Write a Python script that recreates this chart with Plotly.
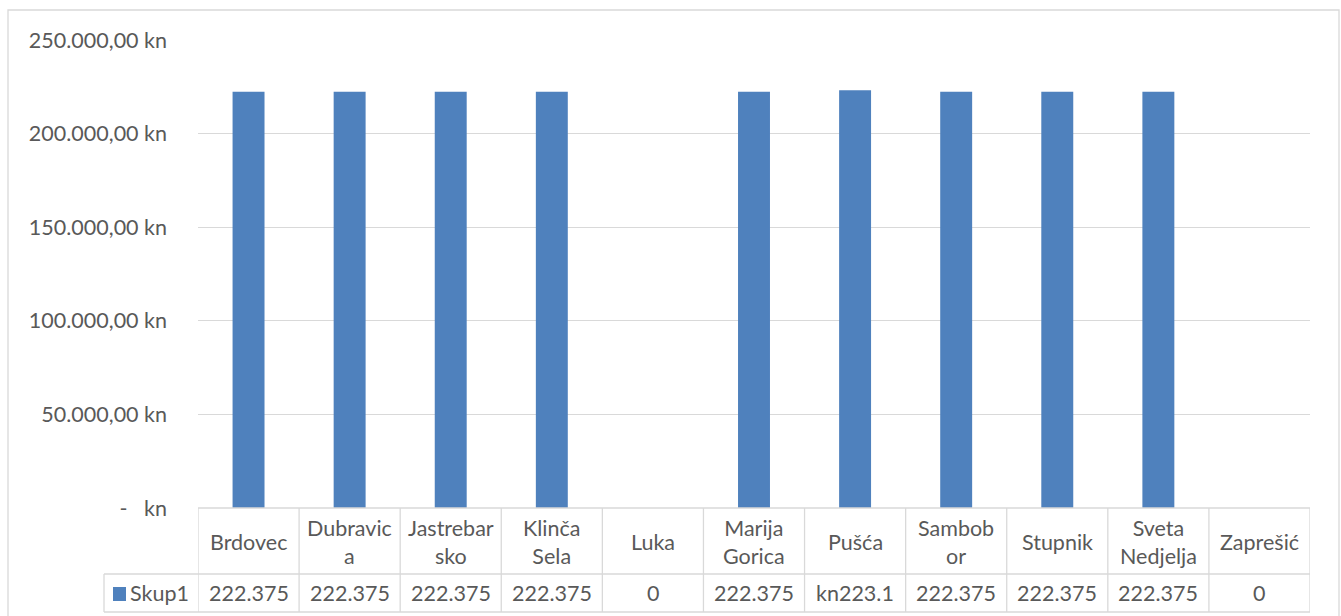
import plotly.graph_objects as go

# ---------------- data ----------------
categories = ["Brdovec", "Dubravica", "Jastrebarsko", "Klinča Sela", "Luka",
              "Marija Gorica", "Pušća", "Sambobor", "Stupnik", "Sveta Nedjelja", "Zaprešić"]
table_labels = ["Brdovec", "Dubravic<br>a", "Jastrebar<br>sko", "Klinča<br>Sela", "Luka",
                "Marija<br>Gorica", "Pušća", "Sambob<br>or", "Stupnik", "Sveta<br>Nedjelja", "Zaprešić"]
values = [222375, 222375, 222375, 222375, 0, 222375, 223100, 222375, 222375, 222375, 0]
value_labels = ["222.375", "222.375", "222.375", "222.375", "0", "222.375",
                "kn223.1", "222.375", "222.375", "222.375", "0"]
series_name = "Skup1"
y_tickvals = [0, 50000, 100000, 150000, 200000, 250000]
y_ticktext = ["-\u00a0\u00a0\u00a0kn", "50.000,00 kn", "100.000,00 kn",
              "150.000,00 kn", "200.000,00 kn", "250.000,00 kn"]

# ---------------- style ----------------
W, H = 1341, 616
BAR = "#4F81BD"
TXT = "#595959"
GRID = "#D9D9D9"
FONT = "Lato"
FS = 21.5

def px_x(p):
    return p / W

def px_y(p):
    return 1 - p / H

x_dom = [px_x(198), px_x(1310)]
y_dom = [px_y(508), px_y(40)]

fig = go.Figure()
fig.add_trace(go.Bar(x=categories, y=values, name=series_name,
                     marker=dict(color=BAR, line=dict(width=0)),
                     showlegend=False, hoverinfo="x+y"))

shapes = []
annotations = []
n = len(categories)

# table row positions (pixels)
t_top, t_mid, t_bot = 508, 574, 612
for i in range(n + 1):
    shapes.append(dict(type="line", xref="x", yref="paper",
                       x0=i - 0.5, x1=i - 0.5, y0=px_y(t_top), y1=px_y(t_bot),
                       line=dict(color=GRID, width=1.3)))
shapes.append(dict(type="line", xref="paper", yref="paper",
                   x0=x_dom[0], x1=x_dom[1], y0=px_y(t_top), y1=px_y(t_top),
                   line=dict(color=GRID, width=1.3)))
for yy in (t_mid, t_bot):
    shapes.append(dict(type="line", xref="paper", yref="paper",
                       x0=px_x(104), x1=x_dom[1], y0=px_y(yy), y1=px_y(yy),
                       line=dict(color=GRID, width=1.3)))
shapes.append(dict(type="line", xref="paper", yref="paper",
                   x0=px_x(104), x1=px_x(104), y0=px_y(t_mid), y1=px_y(t_bot),
                   line=dict(color=GRID, width=1.3)))
# legend key square
shapes.append(dict(type="rect", xref="paper", yref="paper",
                   x0=px_x(113), x1=px_x(126), y0=px_y(601), y1=px_y(587),
                   line=dict(width=0), fillcolor=BAR))
# chart border
shapes.append(dict(type="rect", xref="paper", yref="paper",
                   x0=px_x(8), x1=px_x(1339), y0=-0.02, y1=px_y(10),
                   line=dict(color=GRID, width=1.3), fillcolor="rgba(0,0,0,0)"))

for i, (lab, val) in enumerate(zip(table_labels, value_labels)):
    annotations.append(dict(x=i, xref="x", y=px_y(542), yref="paper",
                            text=lab, showarrow=False, yanchor="middle",
                            font=dict(family=FONT, size=FS, color=TXT)))
    annotations.append(dict(x=i, xref="x", y=px_y(593), yref="paper",
                            text=val, showarrow=False, yanchor="middle",
                            font=dict(family=FONT, size=FS, color=TXT)))

annotations.append(dict(x=px_x(128), xref="paper", y=px_y(593), yref="paper",
                        xanchor="left", yanchor="middle", showarrow=False,
                        text=series_name,
                        font=dict(family=FONT, size=FS, color=TXT)))

fig.update_layout(
    width=W, height=H,
    margin=dict(l=0, r=0, t=0, b=0, pad=0),
    paper_bgcolor="white", plot_bgcolor="white",
    bargap=0.684,
    font=dict(family=FONT, size=FS, color=TXT),
    xaxis=dict(domain=x_dom, range=[-0.5, n - 0.5], showticklabels=False,
               showgrid=False, zeroline=False, showline=False, ticks="",
               automargin=False, fixedrange=True),
    yaxis=dict(domain=y_dom, range=[0, 250000], tickvals=y_tickvals,
               ticktext=y_ticktext, showgrid=True, gridcolor=GRID, gridwidth=1.3,
               zeroline=False, showline=False, ticks="", ticklabelstandoff=30,
               automargin=False, fixedrange=True,
               tickfont=dict(family=FONT, size=FS, color=TXT)),
    shapes=shapes,
    annotations=annotations,
)

fig.write_html("out.html",
               config={"displayModeBar": False},
               post_script="document.body.style.margin='0';document.body.style.overflow='hidden';")
